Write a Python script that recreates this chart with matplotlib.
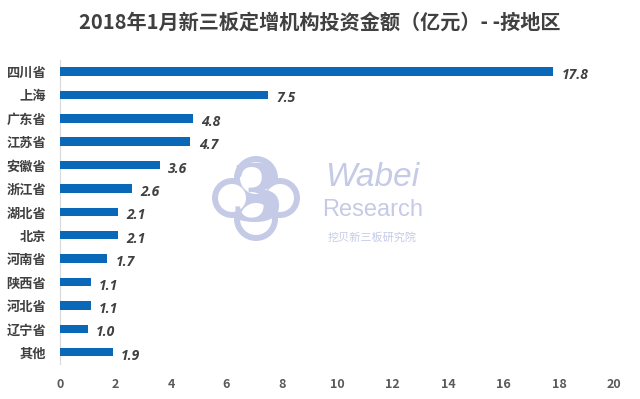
import matplotlib.pyplot as plt
from matplotlib.patches import Circle

plt.rcParams['font.family'] = ['Noto Sans CJK SC', 'DejaVu Sans']

regions = ['四川省', '上海', '广东省', '江苏省', '安徽省', '浙江省', '湖北省',
           '北京', '河南省', '陕西省', '河北省', '辽宁省', '其他']
amounts = [17.8, 7.5, 4.8, 4.7, 3.6, 2.6, 2.1, 2.1, 1.7, 1.1, 1.1, 1.0, 1.9]
xticks = list(range(0, 21, 2))

fig = plt.figure(figsize=(6.4, 3.99), dpi=100)
ax = fig.add_axes([0.094, 0.088, 0.866, 0.762])
ax.set_facecolor('none')
ax.set_zorder(3)

ypos = list(range(len(regions)))
ax.barh(ypos, amounts, height=0.36, color='#0A68B8', zorder=3)
ax.set_ylim(len(regions) - 0.5, -0.5)
ax.set_xlim(0, 20)
ax.set_xticks(xticks)
ax.set_yticks(ypos)
ax.set_yticklabels(regions, fontsize=9.5, color='#404040', fontweight='bold')
ax.set_xticklabels([str(t) for t in xticks], fontsize=9, color='#595959',
                   fontweight='bold')
ax.tick_params(axis='both', length=0)
ax.tick_params(axis='x', pad=10)
ax.tick_params(axis='y', pad=10)
for s in ['top', 'right', 'bottom']:
    ax.spines[s].set_visible(False)
ax.spines['left'].set_color('#d9d9d9')

for y, v in zip(ypos, amounts):
    ax.text(v + 0.3, y + 0.15, f'{v:.1f}', va='center', ha='left',
            fontsize=10, fontweight='bold', style='italic', color='#404040',
            family=['Open Sans', 'DejaVu Sans'], zorder=4)

fig.text(0.5, 0.945, '2018年1月新三板定增机构投资金额（亿元）- -按地区',
         ha='center', va='center', fontsize=14.5, fontweight='bold',
         color='#404040')

# watermark (logo approximated by lobes + big 3)
wm = '#c5cbe6'
lobes = [(256, 178, 22), (256, 219, 22), (232, 198, 20), (280, 198, 20)]
for fill, grow, z in [(wm, 0, 0.1), ('white', -6, 0.2)]:
    for cx, cy, r in lobes:
        fig.patches.append(Circle((cx / 100, (399 - cy) / 100), (r + grow) / 100,
                                  transform=fig.dpi_scale_trans,
                                  facecolor=fill, edgecolor='none', zorder=z))
fig.text(0.401, 0.5, '3', fontsize=56, fontweight='bold', color=wm,
         ha='center', va='center', family=['DejaVu Serif'], zorder=1)
fig.text(0.582, 0.555, 'Wabei', fontsize=24, style='italic', color=wm,
         ha='center', va='center', family=['Liberation Sans'], zorder=1)
fig.text(0.582, 0.473, 'Research', fontsize=17, color=wm,
         ha='center', va='center', family=['Liberation Sans'], zorder=1)
fig.text(0.582, 0.405, '挖贝新三板研究院', fontsize=8, color=wm,
         ha='center', va='center', zorder=1)

fig.savefig('out.png', dpi=100)
